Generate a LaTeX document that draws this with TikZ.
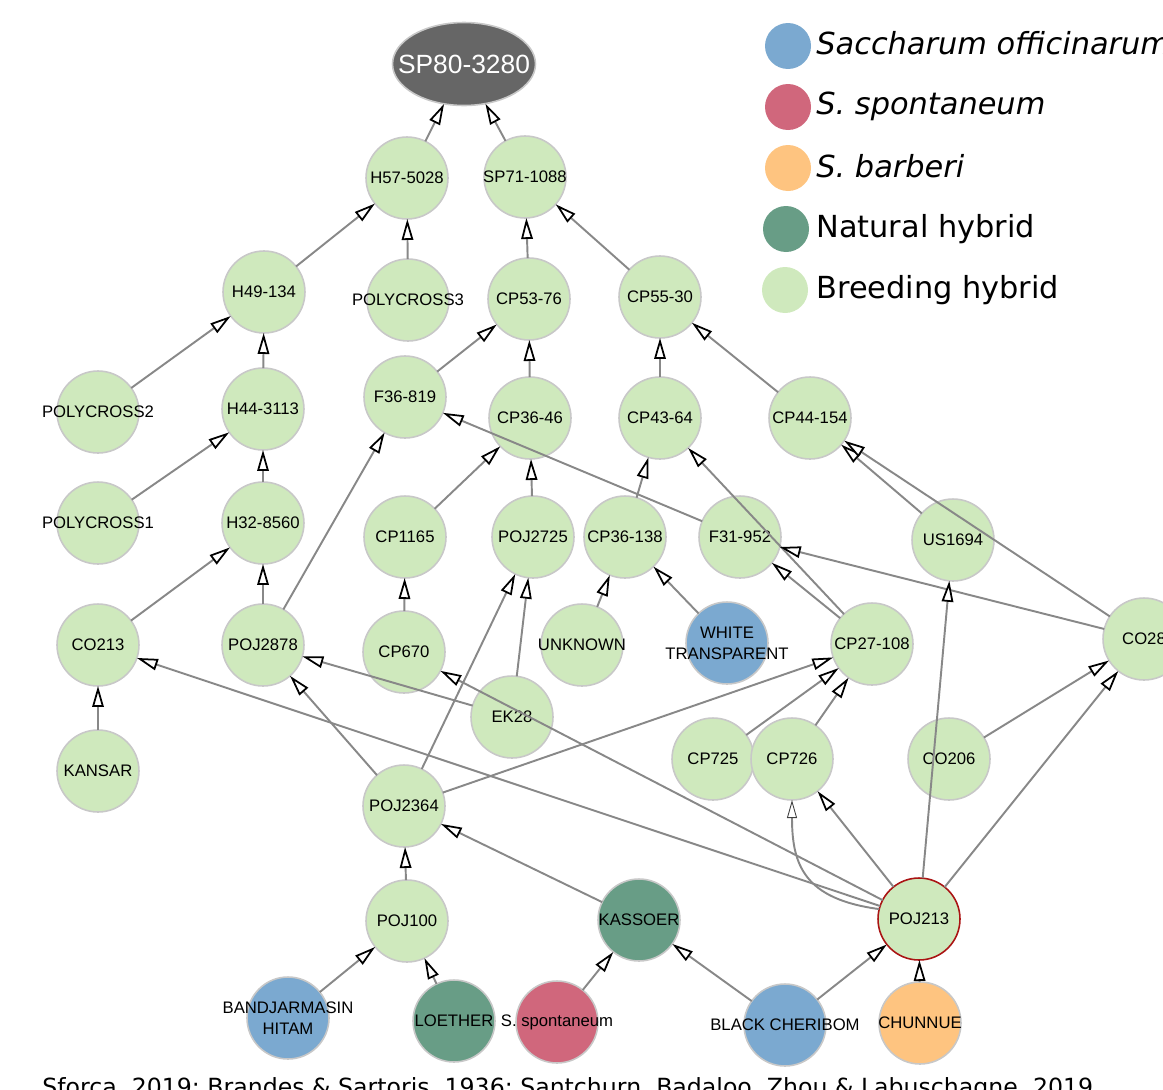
\documentclass[tikz,border=0pt]{standalone}
\usepackage{fontspec}
\setmainfont{Liberation Sans}
\newfontfamily\legendfont{DejaVu Sans}
\usepackage{tikz}
\usepackage{xcolor}
\usetikzlibrary{arrows.meta,shapes.geometric}
\definecolor{officinarum}{RGB}{123,169,208}
\definecolor{spontaneum}{RGB}{208,103,124}
\definecolor{barberi}{RGB}{254,196,128}
\definecolor{nathybrid}{RGB}{104,157,134}
\definecolor{breedhybrid}{RGB}{207,233,189}
\definecolor{darknode}{RGB}{102,102,102}
\definecolor{rimgray}{RGB}{200,200,200}
\definecolor{linkgray}{RGB}{136,136,136}
\definecolor{focusred}{RGB}{170,20,20}
\newcommand{\cultivar}[1]{\makebox[0pt]{#1}}
\tikzstyle{cane} = [
    circle,
    minimum size=1.64cm,
    inner sep=0pt,
    outer sep=0pt,
    draw=rimgray,
    line width=0.9pt,
    fill=breedhybrid,
    align=center
]
\tikzstyle{offic} = [cane, fill=officinarum]
\tikzstyle{spont} = [cane, fill=spontaneum]
\tikzstyle{barb} = [cane, fill=barberi]
\tikzstyle{nat} = [cane, fill=nathybrid]
\tikzstyle{focus} = [cane, draw=focusred]
\tikzstyle{target} = [
    ellipse,
    minimum width=2.86cm,
    minimum height=1.66cm,
    inner sep=0pt,
    outer sep=0pt,
    draw=rimgray,
    line width=0.9pt,
    fill=darknode,
    text=white,
    font=\fontsize{15}{18}\selectfont
]
\tikzstyle{arrow} = [
    line width=1.1pt,
    draw=linkgray,
    -{Triangle[length=0.42cm, width=0.23cm, fill=white, color=black, line width=1pt]}
]
\tikzstyle{loopback} = [
    line width=1.1pt,
    draw=linkgray,
    -{Triangle[length=0.36cm, width=0.2cm, fill=white, color=black!75, line width=0.5pt]}
]
\tikzstyle{keydot} = [
    circle,
    minimum size=0.92cm,
    inner sep=0pt,
    draw=none
]
\tikzstyle{keytext} = [
    anchor=base west,
    inner sep=0pt,
    font=\legendfont\fontsize{17.3}{20}\selectfont
]

\begin{document}
\begin{tikzpicture}[
        x=0.02cm, y=-0.02cm,
        every node/.style={
            font=\fontsize{9.5}{11.9}\selectfont
        }
    ]
        \useasboundingbox (0,0) rectangle (1163,1089);

        % pedigree
        \node[target] (sp80) at (464,64) {\cultivar{SP80-3280}};
        \node[cane] (h57) at (407,178) {\cultivar{H57-5028}};
        \node[cane] (sp71) at (525,177) {\cultivar{SP71-1088}};
        \node[cane] (h49) at (264,292) {\cultivar{H49-134}};
        \node[cane] (pc3) at (408,300) {\cultivar{POLYCROSS3}};
        \node[cane] (cp5376) at (529,299) {\cultivar{CP53-76}};
        \node[cane] (cp5530) at (660,297) {\cultivar{CP55-30}};
        \node[cane] (pc2) at (98,412) {\cultivar{POLYCROSS2}};
        \node[cane] (h44) at (263,409) {\cultivar{H44-3113}};
        \node[cane] (f36) at (405,397) {\cultivar{F36-819}};
        \node[cane] (cp3646) at (530,418) {\cultivar{CP36-46}};
        \node[cane] (cp4364) at (660,418) {\cultivar{CP43-64}};
        \node[cane] (cp44154) at (810,418) {\cultivar{CP44-154}};
        \node[cane] (pc1) at (98,523) {\cultivar{POLYCROSS1}};
        \node[cane] (h32) at (263,523) {\cultivar{H32-8560}};
        \node[cane] (cp1165) at (405,537) {\cultivar{CP1165}};
        \node[cane] (poj2725) at (533,537) {\cultivar{POJ2725}};
        \node[cane] (cp36138) at (625,537) {\cultivar{CP36-138}};
        \node[cane] (f31) at (740,537) {\cultivar{F31-952}};
        \node[cane] (us1694) at (953,540) {\cultivar{US1694}};
        \node[cane] (co213) at (98,645) {\cultivar{CO213}};
        \node[cane] (poj2878) at (263,645) {\cultivar{POJ2878}};
        \node[cane] (cp670) at (404,652) {\cultivar{CP670}};
        \node[cane] (unknown) at (582,645) {\cultivar{UNKNOWN}};
        \node[offic] (white) at (727,643) {\cultivar{WHITE}\\\cultivar{TRANSPARENT}};
        \node[cane] (cp27) at (872,644) {\cultivar{CP27-108}};
        \node[cane] (co28) at (1144,639) {\cultivar{CO28}};
        \node[cane] (ek28) at (512,717) {\cultivar{EK28}};
        \node[cane] (kansar) at (98,771) {\cultivar{KANSAR}};
        \node[cane] (cp725) at (713,759) {\cultivar{CP725}};
        \node[cane] (cp726) at (792,759) {\cultivar{CP726}};
        \node[cane] (co206) at (949,759) {\cultivar{CO206}};
        \node[cane] (poj2364) at (404,806) {\cultivar{POJ2364}};
        \node[cane] (poj100) at (407,921) {\cultivar{POJ100}};
        \node[nat] (kassoer) at (639,920) {\cultivar{KASSOER}};
        \node[focus] (poj213) at (919,919) {\cultivar{POJ213}};
        \node[offic] (bandj) at (288,1018) {\cultivar{BANDJARMASIN}\\\cultivar{HITAM}};
        \node[nat] (loether) at (454,1021) {\cultivar{LOETHER}};
        \node[spont] (sspont) at (557,1022) {\cultivar{S. spontaneum}};
        \node[offic] (black) at (785,1025) {\cultivar{BLACK CHERIBOM}};
        \node[barb] (chunnue) at (920,1023) {\cultivar{CHUNNUE}};

        % parent -> offspring links
        \draw[arrow] (h57) -- (sp80);
        \draw[arrow] (sp71) -- (sp80);
        \draw[arrow] (h49) -- (h57);
        \draw[arrow] (pc3) -- (h57);
        \draw[arrow] (cp5376) -- (sp71);
        \draw[arrow] (cp5530) -- (sp71);
        \draw[arrow] (pc2) -- (h49);
        \draw[arrow] (h44) -- (h49);
        \draw[arrow] (f36) -- (cp5376);
        \draw[arrow] (cp3646) -- (cp5376);
        \draw[arrow] (cp4364) -- (cp5530);
        \draw[arrow] (cp44154) -- (cp5530);
        \draw[arrow] (pc1) -- (h44);
        \draw[arrow] (h32) -- (h44);
        \draw[arrow] (co213) -- (h32);
        \draw[arrow] (poj2878) -- (h32);
        \draw[arrow] (poj2878) -- (f36);
        \draw[arrow] (f31) -- (f36);
        \draw[arrow] (cp1165) -- (cp3646);
        \draw[arrow] (poj2725) -- (cp3646);
        \draw[arrow] (cp36138) -- (cp4364);
        \draw[arrow] (cp27) -- (cp4364);
        \draw[arrow] (us1694) -- (cp44154);
        \draw[arrow] (co28) -- (cp44154);
        \draw[arrow] (unknown) -- (cp36138);
        \draw[arrow] (white) -- (cp36138);
        \draw[arrow] (cp27) -- (f31);
        \draw[arrow] (co28) -- (f31);
        \draw[arrow] (cp670) -- (cp1165);
        \draw[arrow] (ek28) -- (poj2725);
        \draw[arrow] (poj2364) -- (poj2725);
        \draw[arrow] (kansar) -- (co213);
        \draw[arrow] (poj213) -- (co213);
        \draw[arrow] (ek28) -- (poj2878);
        \draw[arrow] (poj2364) -- (poj2878);
        \draw[arrow] (poj213) -- (cp670);
        \draw[arrow] (poj2364) -- (cp27);
        \draw[arrow] (cp725) -- (cp27);
        \draw[arrow] (cp726) -- (cp27);
        \draw[arrow] (poj213) -- (cp726);
        \draw[loopback] (poj213.166) .. controls +(-75,-10) and +(0,65) .. (cp726.south);
        \draw[arrow] (poj213) -- (us1694);
        \draw[arrow] (poj213) -- (co28);
        \draw[arrow] (co206) -- (co28);
        \draw[arrow] (poj100) -- (poj2364);
        \draw[arrow] (kassoer) -- (poj2364);
        \draw[arrow] (bandj) -- (poj100);
        \draw[arrow] (loether) -- (poj100);
        \draw[arrow] (sspont) -- (kassoer);
        \draw[arrow] (black) -- (kassoer);
        \draw[arrow] (black) -- (poj213);
        \draw[arrow] (chunnue) -- (poj213);

        % legend
        \node[keydot, fill=officinarum] (keyoff) at (788,46) {};
        \node[keydot, fill=spontaneum] (keyspo) at (788,107) {};
        \node[keydot, fill=barberi] (keybar) at (788,168) {};
        \node[keydot, fill=nathybrid] (keynat) at (786,229) {};
        \node[keydot, fill=breedhybrid] (keybre) at (785,290) {};
        \node[keytext, font=\legendfont\fontsize{17.3}{20}\selectfont\itshape] (keyofftxt) at (816,54) {Saccharum officinarum};
        \node[keytext, font=\legendfont\fontsize{17.3}{20}\selectfont\itshape] (keyspotxt) at (816,114) {S. spontaneum};
        \node[keytext, font=\legendfont\fontsize{17.3}{20}\selectfont\itshape] (keybartxt) at (816,177) {S. barberi};
        \node[keytext] (keynattxt) at (816,237) {Natural hybrid};
        \node[keytext] (keybretxt) at (816,298) {Breeding hybrid};

        % source line
        \node[anchor=base west, inner sep=0pt, font=\legendfont\fontsize{13.45}{16}\selectfont] (source) at (42,1095) {Sforça, 2019; Brandes \& Sartoris, 1936; Santchurn, Badaloo, Zhou \& Labuschagne, 2019};
    \end{tikzpicture}
\end{document}
